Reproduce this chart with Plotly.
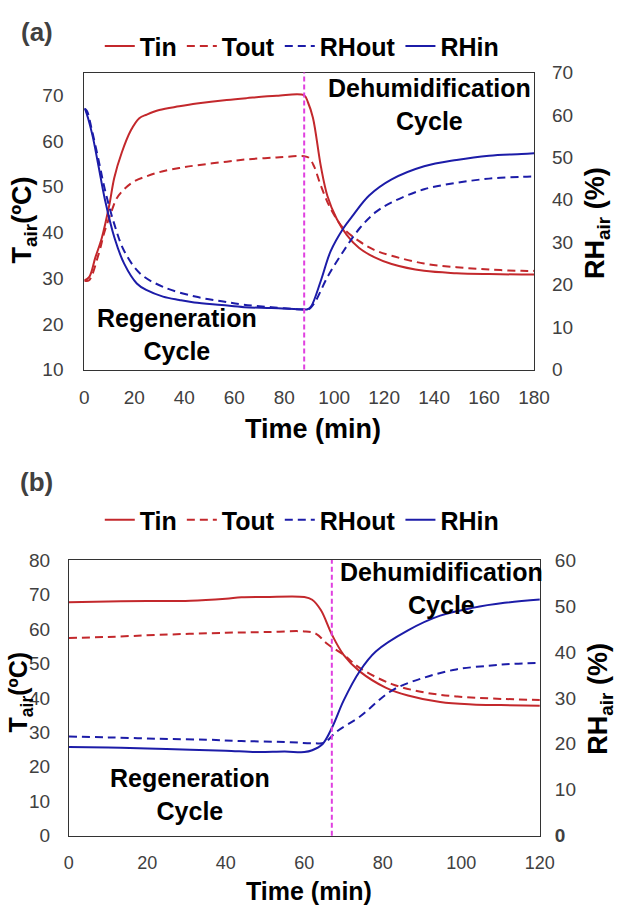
import plotly.graph_objects as go

# ---------------- Data: panel (a) ----------------
a_tin_t = [0, 2, 4.4, 7, 10, 12, 15, 18.6, 22, 25, 30, 38, 45, 57, 65, 77, 88,
           89.5, 91.5, 94.7, 97.3, 101, 105, 110, 116, 123, 136, 149, 162, 175, 180]
a_tin = [29.5, 30.3, 34.5, 38.8, 46, 52, 57.5, 62.3, 65, 65.8, 66.8, 67.6, 68.2, 69.0, 69.4, 69.9, 70.0,
         68.5, 65.1, 54.4, 48.0, 43.0, 39.5, 36.6, 34.6, 33.1, 31.6, 31.1, 30.9, 30.8, 30.8]

a_tout_t = [0, 1.8, 5.7, 8, 10.8, 13, 16, 20, 25, 30, 38, 45, 57, 65, 77, 88,
            90, 92, 94.7, 98.6, 103.7, 110, 116, 123, 136, 149, 162, 175, 180]
a_tout = [29.5, 29.5, 35.2, 40, 44.5, 47.5, 49.5, 51.2, 52.3, 53.2, 54.1, 54.7, 55.5, 56, 56.4, 56.7,
          56.3, 54.4, 50.2, 45.2, 40.9, 38.1, 36.2, 34.9, 33.2, 32.4, 31.9, 31.6, 31.6]

a_rhout_t = [0, 1, 3, 5.7, 8.2, 12.1, 16, 22.4, 31.5, 44.4, 55, 63.7, 75, 88,
             89.5, 92.1, 97.3, 103.7, 110.2, 116.6, 123, 136, 149, 162, 175, 180]
a_rhout = [61.5, 61, 56.5, 49.4, 42.5, 34.1, 27.9, 22.6, 19.5, 17.2, 16.1, 15.3, 14.7, 14.1,
           14.1, 15.7, 21.8, 27.9, 33.3, 37.1, 39.4, 42.5, 44.0, 45.0, 45.4, 45.5]

a_rhin_t = [0, 0.5, 3.1, 5.7, 8.2, 12.1, 16, 21, 25, 31.5, 38, 44, 55, 64, 75, 88,
            89.3, 90.8, 94.7, 98.6, 103.7, 107.6, 114, 123, 136, 149, 162, 175, 180]
a_rhin = [61.5, 61, 55.6, 47.9, 40.2, 31.0, 24.9, 20.3, 18.7, 17.2, 16.4, 15.8, 15.2, 14.7, 14.5, 14.2,
          14.2, 14.9, 21.0, 27.9, 33.3, 36.4, 41.0, 44.8, 47.9, 49.4, 50.4, 50.8, 51.0]

# ---------------- Data: panel (b) ----------------
b_tin_t = [0, 10, 20, 31, 40, 44, 50, 60, 62, 64.2, 67.1, 70, 74.1, 80.7, 86.4, 94.6, 102.8, 110, 120]
b_tin = [67.8, 68.0, 68.1, 68.2, 68.8, 69.2, 69.3, 69.3, 68.5, 65.5, 58.2, 52.5, 47.7, 43.0, 40.7, 38.8, 38.1, 37.9, 37.7]

b_tout_t = [0, 10, 23, 40, 50, 60, 63, 65.8, 70, 74.1, 82.3, 90.5, 98.7, 108, 120]
b_tout = [57.4, 57.7, 58.3, 58.9, 59.1, 59.3, 58.6, 55.7, 52.5, 48.7, 44.0, 41.6, 40.4, 39.8, 39.4]

b_rhout_t = [0, 10, 23, 35, 44, 55, 62.6, 65, 68.3, 74.1, 82.3, 90.5, 98.7, 106.9, 113, 120]
b_rhout = [21.6, 21.4, 21.1, 20.9, 20.6, 20.4, 20.1, 20.2, 22.7, 25.9, 31.6, 34.4, 36.2, 37.0, 37.4, 37.6]

b_rhin_t = [0, 10, 20, 31, 40, 48, 55, 60, 62, 64.6, 67.1, 70, 74.1, 78.2, 86.4, 94.6, 102.8, 111, 120]
b_rhin = [19.3, 19.2, 19.0, 18.7, 18.5, 18.2, 18.3, 18.2, 18.6, 19.9, 23.6, 29.4, 35.8, 40.1, 44.7, 47.9, 49.6, 50.7, 51.4]

switch_times = [88, 67]  # regeneration -> dehumidification switch (min)
series_names = ["Tin", "Tout", "RHout", "RHin"]

# ---------------- Styles ----------------
W, H = 640, 917
RED = "#C3282C"
BLUE = "#1C1CA8"
MAG = "#E040E0"
FONT = "Liberation Sans"
LINEC = "#333333"


def tickfont(size):
    return dict(family=FONT, size=size, color="#404040")


def px_x(x):
    return x / W


def px_y(y):
    return 1 - y / H


fig = go.Figure()

panels = [
    (a_tin_t, a_tin, a_tout_t, a_tout, a_rhout_t, a_rhout, a_rhin_t, a_rhin, "x", "y", "y2", "legend"),
    (b_tin_t, b_tin, b_tout_t, b_tout, b_rhout_t, b_rhout, b_rhin_t, b_rhin, "x2", "y3", "y4", "legend2"),
]
for (tt, tv, ot, ov, rot, rov, rit, riv, xa, ya, ya2, lg) in panels:
    fig.add_trace(go.Scatter(x=tt, y=tv, name=series_names[0], mode="lines", line_shape="spline",
                             line=dict(color=RED, width=2), xaxis=xa, yaxis=ya, legend=lg))
    fig.add_trace(go.Scatter(x=ot, y=ov, name=series_names[1], mode="lines", line_shape="spline",
                             line=dict(color=RED, width=2, dash="8px,5px"), xaxis=xa, yaxis=ya, legend=lg))
    fig.add_trace(go.Scatter(x=rot, y=rov, name=series_names[2], mode="lines", line_shape="spline",
                             line=dict(color=BLUE, width=2, dash="8px,5px"), xaxis=xa, yaxis=ya2, legend=lg))
    fig.add_trace(go.Scatter(x=rit, y=riv, name=series_names[3], mode="lines", line_shape="spline",
                             line=dict(color=BLUE, width=2), xaxis=xa, yaxis=ya2, legend=lg))

# Vertical switch lines
for st, xr, yr in [(switch_times[0], "x", "y domain"), (switch_times[1], "x2", "y3 domain")]:
    fig.add_shape(type="line", xref=xr, yref=yr, x0=st, x1=st, y0=0, y1=1,
                  line=dict(color=MAG, width=2, dash="5px,3px"))

xcommon = dict(showgrid=False, zeroline=False, showline=True, linecolor=LINEC, linewidth=1,
               mirror=True, ticks="", ticklabelstandoff=11, dtick=20, tick0=0)
ycommon = dict(showgrid=False, zeroline=False, showline=True, linecolor=LINEC, linewidth=1,
               ticks="", tickfont=tickfont(19), dtick=10)

dom_a_x = [px_x(82), px_x(547)]
dom_a_y = [px_y(368), px_y(64)]
dom_b_x = [px_x(66), px_x(553)]
dom_b_y = [px_y(845), px_y(563)]

LEGFONT = dict(family=FONT, size=25, color="black", weight="bold")

fig.update_layout(
    width=W, height=H,
    margin=dict(l=0, r=0, t=0, b=0),
    paper_bgcolor="white", plot_bgcolor="white",
    xaxis=dict(domain=dom_a_x, anchor="y", range=[0, 180], tickfont=tickfont(19), **xcommon),
    yaxis=dict(domain=dom_a_y, anchor="x", range=[10, 75], tick0=10, mirror=True,
               ticklabelstandoff=16, **ycommon),
    yaxis2=dict(overlaying="y", anchor="x", side="right", range=[0, 70], tick0=0,
                ticklabelstandoff=17, **{**ycommon, "showline": False}),
    xaxis2=dict(domain=dom_b_x, anchor="y3", range=[0, 120], tickfont=tickfont(18), **xcommon),
    yaxis3=dict(domain=dom_b_y, anchor="x2", range=[0, 80], tick0=0, mirror=True,
                ticklabelstandoff=14, **ycommon),
    yaxis4=dict(overlaying="y3", anchor="x2", side="right", range=[0, 60],
                tickmode="array", tickvals=[0, 10, 20, 30, 40, 50, 60],
                ticktext=["<b>0</b>", "10", "20", "30", "40", "50", "60"],
                ticklabelstandoff=14,
                **{k: v for k, v in ycommon.items() if k not in ("showline", "dtick")}, showline=False),
    legend=dict(orientation="h", x=px_x(98), xanchor="left", y=px_y(37), yanchor="middle",
                font=LEGFONT, bgcolor="rgba(0,0,0,0)", itemwidth=30, tracegroupgap=0),
    legend2=dict(orientation="h", x=px_x(98), xanchor="left", y=px_y(522), yanchor="middle",
                 font=LEGFONT, bgcolor="rgba(0,0,0,0)", itemwidth=30, tracegroupgap=0),
    showlegend=True,
)

BOLD = dict(family=FONT, size=25, color="black", weight="bold")
AXT = dict(family=FONT, size=27, color="black", weight="bold")
AXTB = dict(family=FONT, size=25, color="black", weight="bold")
LBL = dict(family=FONT, size=26, color="#404040", weight="bold")
ann = [
    ("(a)", 33, 23, 0, LBL),
    ("(b)", 33, 483, 0, LBL),
    ("T<sub>air</sub>(ºC)", 20, 215, -90, AXT),
    ("RH<sub>air</sub> (%)", 612, 218, -90, AXT),
    ("Time (min)", 318, 429, 0, dict(family=FONT, size=27, color="black", weight="bold")),
    ("T<sub>air</sub>(ºC)", 16, 698, -90, AXTB),
    ("RH<sub>air</sub> (%)", 615, 705, -90, AXT),
    ("Time (min)", 314, 902, 0, dict(family=FONT, size=25, color="black", weight="bold")),
    ("Dehumidification<br>Cycle", 439, 97, 0, BOLD),
    ("Regeneration<br>Cycle", 178, 332, 0, BOLD),
    ("Dehumidification<br>Cycle", 451, 592, 0, BOLD),
    ("Regeneration<br>Cycle", 191, 803, 0, BOLD),
]
for text, x, y, ang, font in ann:
    fig.add_annotation(text=text, xref="paper", yref="paper", x=px_x(x), y=px_y(y),
                       xanchor="center", yanchor="middle", showarrow=False,
                       textangle=ang, font=font, align="center")

fig.write_html("out.html")
